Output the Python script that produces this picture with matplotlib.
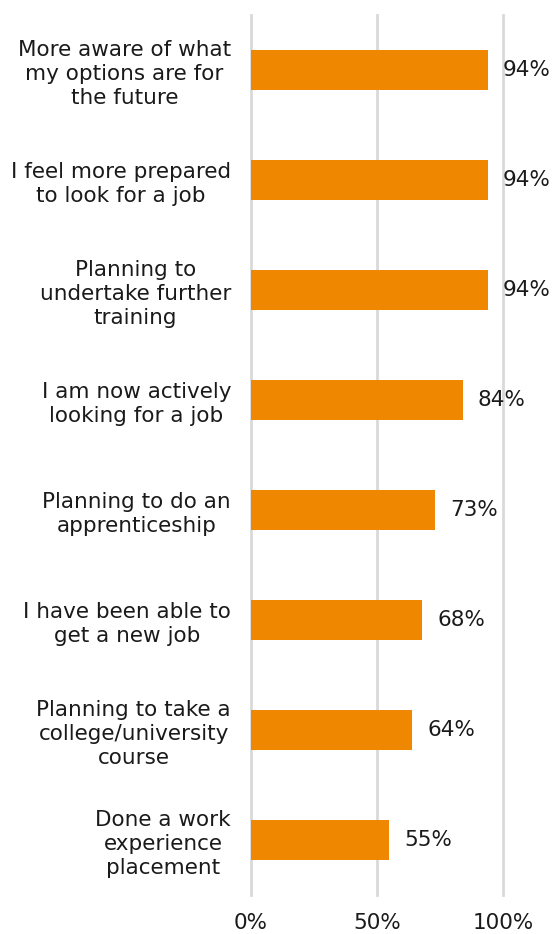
import matplotlib
matplotlib.use("Agg")
import matplotlib.pyplot as plt
import numpy as np

labels = [
    "More aware of what\nmy options are for\nthe future",
    "I feel more prepared\nto look for a job",
    "Planning to\nundertake further\ntraining",
    "I am now actively\nlooking for a job",
    "Planning to do an\napprenticeship",
    "I have been able to\nget a new job",
    "Planning to take a\ncollege/university\ncourse",
    "Done a work\nexperience\nplacement",
]
values = [94, 94, 94, 84, 73, 68, 64, 55]
xticks = [0, 50, 100]

fig = plt.figure(figsize=(5.53, 9.34), dpi=100)
ax = fig.add_axes([250.5 / 553, 39 / 934, 252.5 / 553, 880 / 934])

y = np.arange(len(values))
ax.barh(y, values, height=0.355, color="#F08700", zorder=3)
for yi, v in zip(y, values):
    ax.text(v + 6, yi, f"{v}%", va="center", ha="left", fontsize=15.5,
            color="#1a1a1a")

ax.set_xlim(0, 100)
ax.set_ylim(len(values) - 0.5, -0.5)
ax.set_xticks(xticks)
ax.set_xticklabels([f"{t}%" for t in xticks], fontsize=15.5, color="#1a1a1a")
ax.set_yticks(y)
ax.set_yticklabels(labels, fontsize=15.5, color="#1a1a1a")
for t in ax.get_yticklabels():
    t.set_multialignment("center")
    t.set_linespacing(1.25)
ax.tick_params(axis="both", length=0)
ax.tick_params(axis="y", pad=14)
ax.tick_params(axis="x", pad=13)
ax.grid(axis="x", color="#D9D9D9", linewidth=2, zorder=0)
for gl in ax.get_xgridlines():
    gl.set_clip_on(False)
for s in ax.spines.values():
    s.set_visible(False)

fig.savefig("out.png", dpi=100)
